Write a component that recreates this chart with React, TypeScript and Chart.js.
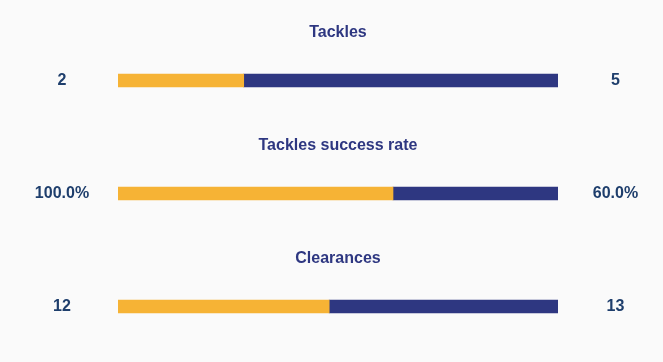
import React, { useEffect, useRef } from "react";
import { Chart, registerables } from "chart.js";

Chart.register(...registerables);

const categories = ["Tackles", "Tackles success rate", "Clearances"];
const homeValues = [2, 100, 12];
const awayValues = [5, 60, 13];
const homeLabels = ["2", "100.0%", "12"];
const awayLabels = ["5", "60.0%", "13"];

const HOME_COLOR = "#f6b335";
const AWAY_COLOR = "#2e3781";
const TITLE_COLOR = "#2e3781";
const VALUE_COLOR = "#1e3e6c";

export default function App() {
  const ref = useRef<HTMLCanvasElement | null>(null);

  useEffect(() => {
    if (!ref.current) return;
    const homeShare = homeValues.map((h, i) => h / (h + awayValues[i]));
    const awayShare = awayValues.map((a, i) => a / (homeValues[i] + a));

    const labelPlugin = {
      id: "labels",
      afterDatasetsDraw(chart: any) {
        const ctx = chart.ctx;
        const yScale = chart.scales.y;
        ctx.save();
        ctx.textAlign = "center";
        ctx.textBaseline = "middle";
        categories.forEach((cat, i) => {
          const y = yScale.getPixelForValue(i);
          ctx.fillStyle = TITLE_COLOR;
          ctx.font = "bold 16px 'Liberation Sans', Arial, sans-serif";
          ctx.fillText(cat, (chart.chartArea.left + chart.chartArea.right) / 2, y - 47.5);
          ctx.fillStyle = VALUE_COLOR;
          ctx.font = "bold 16px 'Liberation Sans', Arial, sans-serif";
          ctx.fillText(homeLabels[i], 62, y);
          ctx.fillText(awayLabels[i], 615.5, y);
        });
        ctx.restore();
      },
    };

    const chart = new Chart(ref.current, {
      type: "bar",
      data: {
        labels: categories,
        datasets: [
          { label: "Home", data: homeShare, backgroundColor: HOME_COLOR, barThickness: 13, borderWidth: 0 },
          { label: "Away", data: awayShare, backgroundColor: AWAY_COLOR, barThickness: 13, borderWidth: 0 },
        ],
      },
      options: {
        indexAxis: "y",
        animation: false,
        responsive: false,
        maintainAspectRatio: false,
        layout: { padding: { left: 118, right: 105, top: 24, bottom: 0 } },
        plugins: { legend: { display: false }, tooltip: { enabled: false } },
        scales: {
          x: { stacked: true, min: 0, max: 1, display: false },
          y: { stacked: true, display: false, grid: { display: false } },
        },
      },
      plugins: [labelPlugin],
    });
    return () => chart.destroy();
  }, []);

  return (
    <div style={{ position: "fixed", left: 0, top: 0, width: 663, height: 362, background: "#fafafa", overflow: "hidden" }}>
      <canvas ref={ref} width={663} height={363} style={{ display: "block" }} />
    </div>
  );
}
